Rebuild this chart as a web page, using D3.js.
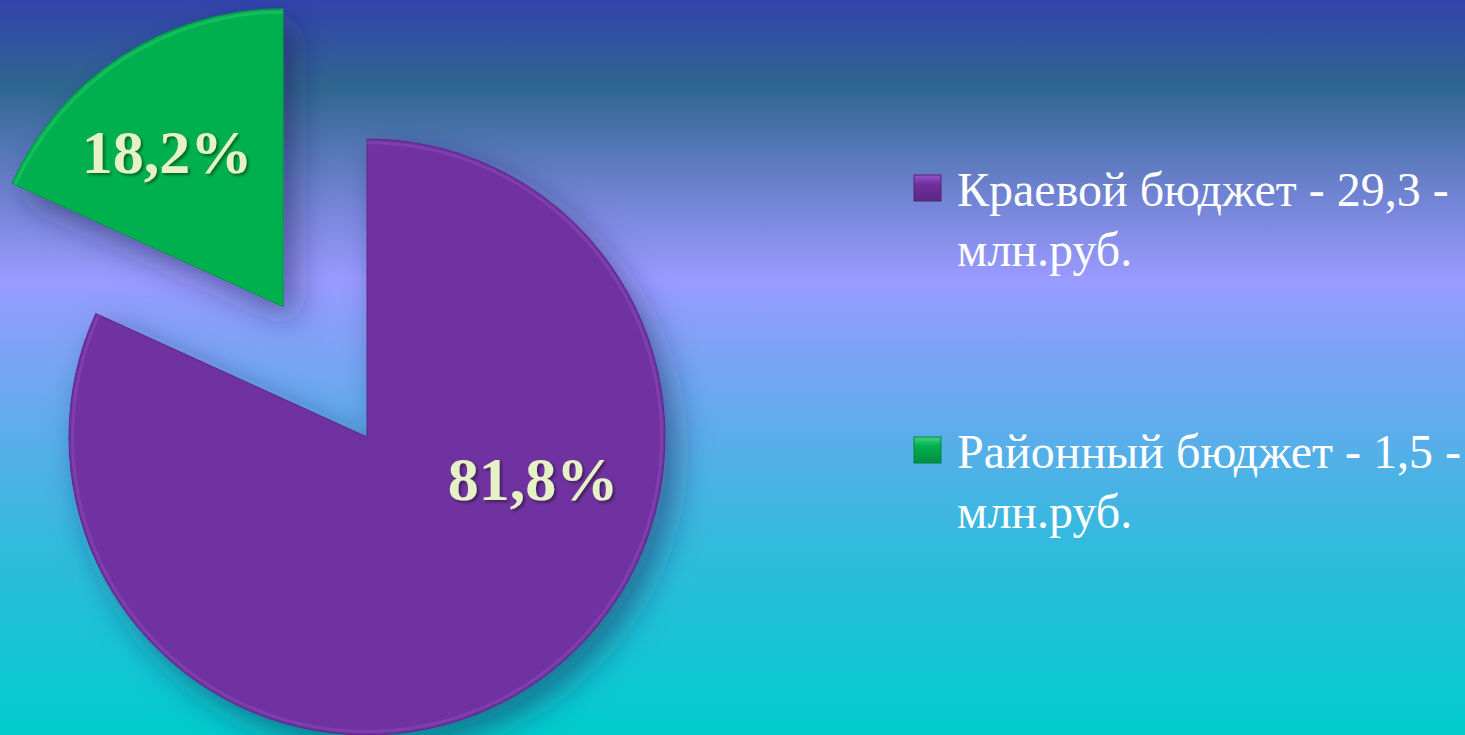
<!DOCTYPE html>
<html>
<head>
<meta charset="utf-8">
<script src="https://cdn.jsdelivr.net/npm/d3@7"></script>
<style>
  html, body { margin: 0; padding: 0; }
  body { width: 1465px; height: 735px; overflow: hidden; }
  svg { display: block; }
</style>
</head>
<body>
<svg id="chart"></svg>
<script>
// budget shares
var categories = ["Краевой бюджет", "Районный бюджет"];
var shares = [81.8, 18.2];
var amounts = ["29,3", "1,5"];
var unitLabel = "млн.руб.";

var width = 1465,
	height = 735,
	radius = 298,
	explode = 155,
	cx = 367,
	cy = 437;

var colors = d3.scaleOrdinal()
	.domain(categories)
	.range(["#7030a0", "#00b050"]);
var lightColors = d3.scaleOrdinal()
	.domain(categories)
	.range(["#9a55c8", "#3fd67f"]);

var data = categories.map(function(c, i) {
	return { name: c, share: shares[i], amount: amounts[i] };
});

var svg = d3.select("#chart")
	.attr("width", width)
	.attr("height", height);

var defs = svg.append("defs");

// background gradient
var bg = defs.append("linearGradient")
	.attr("id", "bg")
	.attr("x1", 0).attr("y1", 0).attr("x2", 0).attr("y2", 1);
[
	[0, "#3343ad"],
	[0.12, "#2f6790"],
	[0.25, "#6a80cc"],
	[0.38, "#9a9aff"],
	[0.55, "#66aaee"],
	[0.75, "#30bbdd"],
	[1, "#00cccc"]
].forEach(function(s) {
	bg.append("stop").attr("offset", s[0]).attr("stop-color", s[1]);
});

svg.append("rect")
	.attr("width", width)
	.attr("height", height)
	.attr("fill", "url(#bg)");

var shadow = defs.append("filter")
	.attr("id", "shadow")
	.attr("x", "-30%").attr("y", "-30%")
	.attr("width", "160%").attr("height", "160%");
shadow.append("feDropShadow")
	.attr("dx", 12).attr("dy", 14)
	.attr("stdDeviation", 16)
	.attr("flood-color", "#1a1a55")
	.attr("flood-opacity", 0.5);

var textShadow = defs.append("filter")
	.attr("id", "tshadow")
	.attr("x", "-20%").attr("y", "-20%")
	.attr("width", "140%").attr("height", "140%");
textShadow.append("feDropShadow")
	.attr("dx", 2).attr("dy", 2)
	.attr("stdDeviation", 1.5)
	.attr("flood-color", "#000")
	.attr("flood-opacity", 0.45);

var pie = d3.pie()
	.sort(null)
	.value(function(d) { return d.share; });

var arc = d3.arc()
	.innerRadius(0)
	.outerRadius(radius);

var arcs = pie(data);

var slice = svg.selectAll("g.slice")
	.data(arcs)
	.enter()
	.append("g")
	.attr("class", "slice")
	.attr("transform", function(d, i) {
		if (i === 0) return "translate(" + [cx, cy] + ")";
		var a = (d.startAngle + d.endAngle) / 2;
		return "translate(" + [cx + explode * Math.sin(a), cy - explode * Math.cos(a)] + ")";
	});

slice.append("path")
	.attr("d", arc)
	.attr("fill", function(d) { return colors(d.data.name); })
	.attr("stroke", function(d) { return d3.color(colors(d.data.name)).darker(0.5); })
	.attr("stroke-width", 1)
	.attr("filter", "url(#shadow)");

// light bevel edge
slice.append("path")
	.attr("d", d3.arc().innerRadius(radius - 5).outerRadius(radius - 2))
	.attr("fill", function(d) { return lightColors(d.data.name); })
	.attr("opacity", 0.35);

slice.append("text")
	.attr("transform", function(d, i) {
		var a, r;
		if (i === 0) { a = 104 * Math.PI / 180; r = 171; }
		else { a = (d.startAngle + d.endAngle) / 2 - 4 * Math.PI / 180; r = 194; }
		return "translate(" + [r * Math.sin(a), -r * Math.cos(a)] + ")";
	})
	.attr("text-anchor", "middle")
	.attr("dy", "0.35em")
	.attr("font-family", "'Liberation Serif', 'Times New Roman', serif")
	.attr("font-weight", "bold")
	.attr("font-size", 62)
	.attr("fill", "#e6f2c6")
	.attr("filter", "url(#tshadow)")
	.text(function(d) { return d.data.share.toFixed(1).replace(".", ",") + "%"; });

// legend
var legendY = d3.scalePoint()
	.domain(categories)
	.range([206, 468]);

categories.forEach(function(c) {
	var g = defs.append("linearGradient")
		.attr("id", "lg" + categories.indexOf(c))
		.attr("x1", 0).attr("y1", 0).attr("x2", 0).attr("y2", 1);
	g.append("stop").attr("offset", 0).attr("stop-color", lightColors(c));
	g.append("stop").attr("offset", 0.35).attr("stop-color", colors(c));
	g.append("stop").attr("offset", 1).attr("stop-color", d3.color(colors(c)).darker(0.6));
});

var legend = svg.selectAll("g.legend")
	.data(data)
	.enter()
	.append("g")
	.attr("class", "legend")
	.attr("transform", function(d) { return "translate(914," + legendY(d.name) + ")"; });

legend.append("rect")
	.attr("x", 0)
	.attr("y", -31)
	.attr("width", 27)
	.attr("height", 26)
	.attr("fill", function(d, i) { return "url(#lg" + i + ")"; })
	.attr("stroke", function(d) { return d3.color(colors(d.name)).darker(0.8); })
	.attr("stroke-width", 1);

var ltext = legend.append("text")
	.attr("x", 43)
	.attr("font-family", "'Liberation Serif', 'Times New Roman', serif")
	.attr("font-size", 48)
	.attr("fill", "#ffffff");

ltext.append("tspan")
	.attr("x", 43)
	.attr("y", 0)
	.text(function(d) { return d.name + " - " + d.amount + " -"; });
ltext.append("tspan")
	.attr("x", 43)
	.attr("y", 60)
	.text(unitLabel);
</script>
</body>
</html>
